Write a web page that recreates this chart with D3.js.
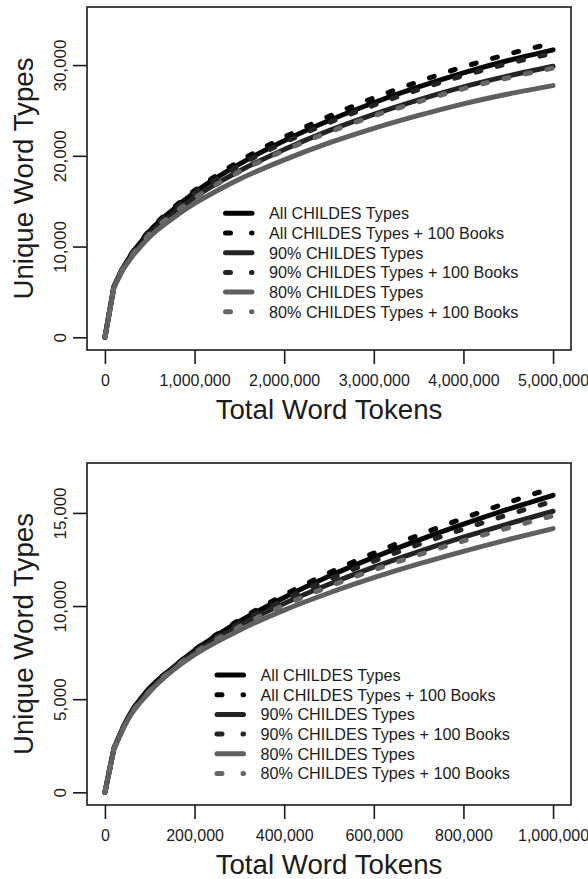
<!DOCTYPE html>
<html>
<head>
<meta charset="utf-8">
<script src="https://cdn.jsdelivr.net/npm/d3@7/dist/d3.min.js"></script>
<style>
  html, body { margin: 0; padding: 0; background: #fff; }
  svg { display: block; font-family: "Liberation Sans", Arial, Helvetica, sans-serif; }
</style>
</head>
<body>
<svg id="chart" width="588" height="879"></svg>
<script>
// ---------- data ----------
const seriesNames = [
  "All CHILDES Types",
  "All CHILDES Types + 100 Books",
  "90% CHILDES Types",
  "90% CHILDES Types + 100 Books",
  "80% CHILDES Types",
  "80% CHILDES Types + 100 Books"
];

// Panel A: 0 - 5,000,000 tokens
const tokensA = [0,100000,200000,300000,400000,500000,750000,1000000,1250000,1500000,2000000,2500000,3000000,3500000,4000000,4500000,5000000];
const allA      = [0,5600,7610,9200,10505,11705,13995,15950,17613,19092,21659,23893,25851,27591,29149,30502,31680];
const allBooksA = [0,5600,7640,9262,10586,11818,14158,16175,17870,19400,22049,24354,26373,28172,29799,31208,32420];
const p90A      = [0,5550,7540,9050,10282,11429,13565,15415,16956,18332,20705,22776,24572,26163,27595,28807,29870];
const p90BooksA = [0,5580,7600,9171,10455,11654,13913,15836,17469,18938,21464,23657,25575,27295,28834,30169,31300];
const p80A      = [0,5450,7430,8858,10018,11080,13064,14748,16155,17418,19556,21423,23028,24449,25725,26809,27740];
const p80BooksA = [0,5500,7520,9029,10252,11388,13504,15343,16863,18240,20582,22612,24399,25959,27402,28605,29660];
const xTicksA = [0,1000000,2000000,3000000,4000000,5000000];
const yTicksA = [0,10000,20000,30000];

// Panel B: 0 - 1,000,000 tokens
const tokensB = [0,20000,50000,100000,150000,200000,300000,400000,500000,600000,700000,800000,900000,1000000];
const allB      = [0,2350,3950,5600,6665,7610,9170,10465,11600,12610,13535,14395,15200,15950];
const allBooksB = [0,2350,3950,5600,6670,7640,9250,10600,11780,12840,13810,14710,15560,16350];
const p90B      = [0,2330,3900,5500,6625,7505,8950,10140,11170,12090,12925,13700,14415,15090];
const p90BooksB = [0,2340,3930,5550,6645,7565,9080,10340,11435,12410,13305,14135,14905,15630];
const p80B      = [0,2300,3850,5400,6520,7390,8705,9780,10700,11520,12260,12940,13570,14160];
const p80BooksB = [0,2320,3870,5450,6580,7475,8885,10045,11050,11940,12750,13500,14200,14850];
const xTicksB = [0,200000,400000,600000,800000,1000000];
const yTicksB = [0,5000,10000,15000];

const xTitle = "Total Word Tokens";
const yTitle = "Unique Word Types";

// ---------- styles ----------
const seriesColors = ["#050505", "#050505", "#232323", "#232323", "#5f5f5f", "#666666"];
const seriesDashed = [false, true, false, true, false, true];
const LW = 5;
const textColor = "#1c1c1c";

const svg = d3.select("#chart");
const fmt = d3.format(",");

function panel(cfg) {
  const { left, right, top, bottom, xDomain, yDomain, tokens, series, xTicks, yTicks, legendX, legendY, id } = cfg;
  const x = d3.scaleLinear().domain(xDomain).range([left, right]);
  const y = d3.scaleLinear().domain(yDomain).range([bottom, top]);
  const g = svg.append("g");

  g.append("clipPath").attr("id", "clip" + id)
    .append("rect").attr("x", left).attr("y", top).attr("width", right - left).attr("height", bottom - top);

  const lineGen = d3.line().x(d => x(d[0])).y(d => y(d[1])).curve(d3.curveMonotoneX);
  const lines = g.append("g").attr("clip-path", `url(#clip${id})`);
  series.forEach((vals, i) => {
    const pts = tokens.map((t, k) => [t, vals[k]]);
    const rest = lineGen(pts.slice(1));
    const d = `M${x(pts[0][0])},${y(pts[0][1])}L` + rest.slice(1);
    lines.append("path")
      .attr("d", d)
      .attr("fill", "none")
      .attr("stroke", seriesColors[i])
      .attr("stroke-width", LW)
      .attr("stroke-linecap", "round")
      .attr("stroke-linejoin", "round")
      .attr("stroke-dasharray", seriesDashed[i] ? "5 17" : null);
  });

  // box
  g.append("rect").attr("x", left).attr("y", top).attr("width", right - left).attr("height", bottom - top)
    .attr("fill", "none").attr("stroke", "#1a1a1a").attr("stroke-width", 1.6);

  // x axis
  const xa = g.append("g").attr("transform", `translate(0,${bottom})`)
    .call(d3.axisBottom(x).tickValues(xTicks).tickFormat(fmt).tickSize(14).tickSizeOuter(0));
  xa.select(".domain").remove();
  xa.selectAll(".tick line").attr("stroke", "#1a1a1a").attr("stroke-width", 1.6);
  xa.selectAll(".tick text").attr("y", 30).attr("dy", "0.35em")
    .attr("fill", textColor).style("font-size", "16px")
    .style("font-family", '"Liberation Sans", Arial, sans-serif');

  // y axis
  const ya = g.append("g").attr("transform", `translate(${left},0)`)
    .call(d3.axisLeft(y).tickValues(yTicks).tickFormat(fmt).tickSize(14).tickSizeOuter(0));
  ya.select(".domain").remove();
  ya.selectAll(".tick line").attr("stroke", "#1a1a1a").attr("stroke-width", 1.6);
  ya.selectAll(".tick text").attr("x", 0).attr("y", 0).attr("dy", "0.35em")
    .attr("transform", "translate(-27,0) rotate(-90)")
    .attr("text-anchor", "middle")
    .attr("fill", textColor).style("font-size", "17px")
    .style("font-family", '"Liberation Sans", Arial, sans-serif');

  // titles
  g.append("text").attr("x", (left + right) / 2).attr("y", bottom + 69)
    .attr("text-anchor", "middle").attr("fill", textColor)
    .style("font-size", "27.7px").text(xTitle);
  g.append("text").attr("transform", `translate(33,${(top + bottom) / 2}) rotate(-90)`)
    .attr("text-anchor", "middle").attr("fill", textColor)
    .style("font-size", "27.7px").text(yTitle);

  // legend
  const lg = g.append("g");
  seriesNames.forEach((name, i) => {
    const yy = legendY + i * 19.7;
    lg.append("path")
      .attr("d", `M${legendX + 2.5},${yy}L${legendX + 29},${yy}`)
      .attr("fill", "none")
      .attr("stroke", seriesColors[i])
      .attr("stroke-width", LW)
      .attr("stroke-linecap", "round")
      .attr("stroke-dasharray", seriesDashed[i] ? "5 21 0.5 50" : null);
    lg.append("text").attr("x", legendX + 46).attr("y", yy).attr("dy", "0.36em")
      .attr("fill", textColor).style("font-size", "16.2px").text(name);
  });
}

panel({
  id: "A", left: 87, right: 571, top: 7, bottom: 350,
  xDomain: [-200000, 5200000], yDomain: [-1400, 36400],
  tokens: tokensA,
  series: [allA, allBooksA, p90A, p90BooksA, p80A, p80BooksA],
  xTicks: xTicksA, yTicks: yTicksA,
  legendX: 223, legendY: 213.3
});

panel({
  id: "B", left: 87, right: 571, top: 463, bottom: 805,
  xDomain: [-40000, 1040000], yDomain: [-680, 17680],
  tokens: tokensB,
  series: [allB, allBooksB, p90B, p90BooksB, p80B, p80BooksB],
  xTicks: xTicksB, yTicks: yTicksB,
  legendX: 214.5, legendY: 675
});
</script>
</body>
</html>
